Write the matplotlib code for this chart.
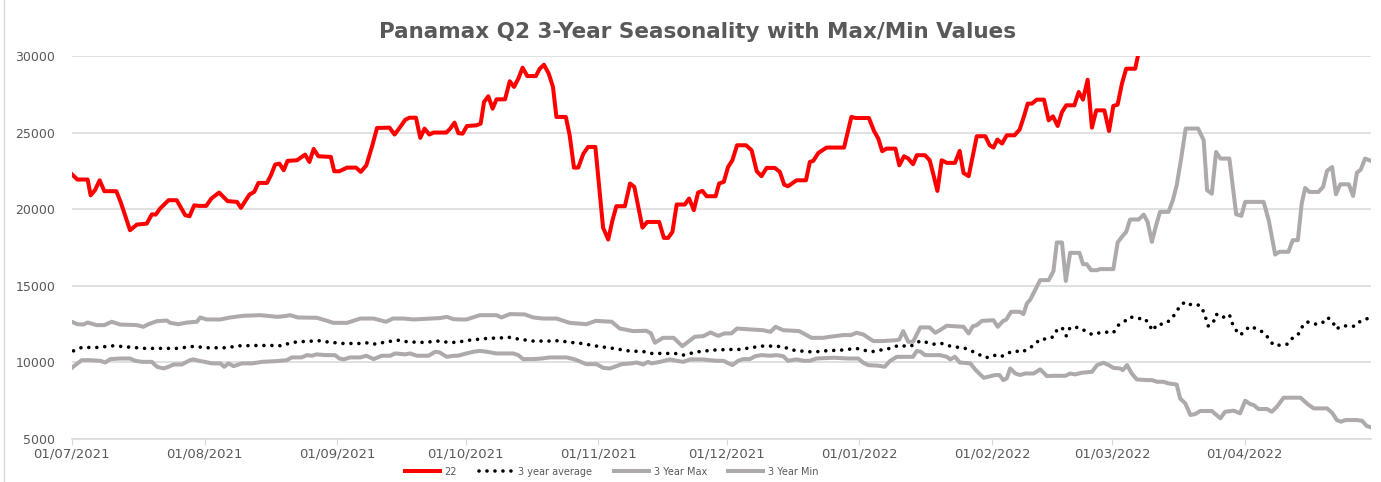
import numpy as np
import pandas as pd
import matplotlib
matplotlib.use('Agg')
import matplotlib.pyplot as plt
import matplotlib.dates as mdates
from matplotlib.lines import Line2D

start = pd.Timestamp('2021-07-01')

# days after 01/07/2021
red_days = [0, 1.3, 3.7, 4.4, 5.4, 6.5, 7.6, 10.4, 11.4, 12.7, 13.6, 15.2, 17.5, 18.7, 19.6, 20.6,
            22.6, 24.5, 26.5, 27.5, 28.6, 29.6, 31.4, 32.6, 34.4, 36.4, 38.6, 39.5, 41.5, 42.6, 43.6,
            45.6, 46.5, 47.5, 48.5, 49.5, 50.4, 52.6, 54.5, 55.5, 56.5, 57.6, 60.5, 61.3, 62.5, 64.3,
            66.4, 67.5, 68.8, 70.1, 71.3, 74.2, 75.4, 76.6, 77.9, 78.9, 80.4, 81.4, 82.4, 83.5, 84.5,
            87.5, 88.4, 89.4, 90.3, 91.3, 92.3, 94.5, 95.5, 96.3, 97.3, 98.3, 99.2, 101.2, 102.3, 103.3,
            104.3, 105.3, 106.4, 108.4, 109.3, 110.3, 111.4, 112.4, 113.2, 115.4, 116.3, 117.3, 118.3,
            119.5, 120.6, 122.3, 123.2, 124.1, 125.3, 126.3, 127.2, 129.2, 130.4, 131.4, 133.3, 134.4,
            137.2, 138.3, 139.3, 140.3, 141.3, 143.2, 144.2, 145.3, 146.3, 147.3, 148.3, 150.4, 151.2,
            152.3, 153.3, 154.3, 155.4, 157.5, 158.8, 160.0, 161.1, 162.3, 164.2, 165.4, 166.4, 167.3,
            169.3, 171.5, 172.4, 173.2, 174.4, 176.3, 180.4, 182.1, 183.2, 186.2, 187.4, 188.4, 189.3,
            190.3, 192.4, 193.3, 194.4, 195.4, 196.5, 197.4, 199.3, 200.4, 201.3, 202.2, 203.2, 204.4,
            206.3, 207.4, 208.3, 209.5, 210.5, 211.4, 213.4, 214.4, 215.3, 216.2, 217.3, 218.4, 220.2,
            221.4, 222.5, 223.3, 224.3, 225.4, 227.1, 228.2, 229.2, 230.3, 231.3, 232.3, 234.2, 235.2,
            236.2, 237.3, 238.3, 239.3, 241.2, 242.3, 243.3, 244.3, 245.3, 246.3, 248.4, 249.8]
red_vals = [22280, 21930, 21930, 20900, 21230, 21880, 21170, 21170, 20470, 19380, 18620, 18990, 19050,
            19660, 19640, 20030, 20580, 20580, 19600, 19530, 20250, 20210, 20210, 20690, 21080, 20520,
            20470, 20080, 20950, 21120, 21710, 21710, 22210, 22910, 22970, 22540, 23150, 23190, 23560,
            23080, 23930, 23450, 23410, 22470, 22470, 22710, 22710, 22430, 22860, 24060, 25300, 25320,
            24870, 25320, 25840, 25970, 25970, 24650, 25260, 24870, 25000, 25000, 25260, 25650, 24960,
            24930, 25430, 25470, 25580, 27000, 27370, 26560, 27170, 27170, 28350, 27980, 28520, 29240,
            28690, 28690, 29170, 29430, 28850, 27980, 26020, 26020, 24820, 22710, 22710, 23620, 24060,
            24060, 21450, 18790, 18010, 19270, 20190, 20190, 21670, 21450, 18790, 19160, 19160, 18120,
            18120, 18510, 20300, 20300, 20690, 19930, 21080, 21190, 20840, 20840, 21670, 21780, 22750,
            23190, 24170, 24170, 23840, 22470, 22150, 22690, 22690, 22430, 21600, 21490, 21880, 21880,
            23080, 23150, 23670, 24020, 24020, 26020, 25950, 25950, 25100, 24600, 23780, 23950, 23950,
            22860, 23450, 23300, 22930, 23520, 23520, 23190, 22210, 21190, 23190, 23020, 23020, 23800,
            22360, 22150, 23520, 24760, 24760, 24170, 24020, 24540, 24280, 24820, 24820, 25190, 26130,
            26890, 26890, 27150, 27150, 25800, 26060, 25430, 26340, 26780, 26780, 27650, 27150, 28450,
            25320, 26450, 26450, 25100, 26740, 26820, 28190, 29170, 29170, 31000]

avg_days = [0.4, 2.3, 5.8, 9.7, 13.6, 17.1, 20.6, 24.5, 28.4, 31.9, 35.8, 39.3, 43.2, 47.1, 49.1, 50.6,
            52.6, 56.1, 58.0, 60.0, 63.5, 67.4, 69.3, 70.9, 72.8, 74.8, 76.6, 78.3, 82.2, 85.7, 87.6,
            89.6, 93.0, 96.9, 100.4, 102.3, 104.3, 107.8, 111.7, 113.6, 115.6, 117.3, 119.1, 122.6,
            126.5, 130.0, 133.9, 135.4, 138.9, 140.9, 142.8, 144.4, 146.3, 149.8, 153.7, 155.7, 157.6,
            161.1, 164.6, 166.6, 168.5, 172.0, 173.9, 175.9, 179.8, 183.3, 184.9, 186.8, 188.8, 190.3,
            192.0, 193.8, 195.0, 196.6, 198.2, 199.7, 201.7, 203.2, 205.2, 208.7, 210.6, 212.2, 213.6,
            215.3, 217.0, 218.8, 220.4, 221.9, 223.5, 224.8, 226.2, 227.8, 229.3, 230.1, 231.3, 232.3,
            233.2, 235.2, 236.7, 238.3, 240.1, 241.8, 243.3, 244.5, 245.8, 247.2, 249.0, 250.7, 251.8,
            252.5, 253.5, 255.0, 256.6, 257.7, 258.9, 260.1, 261.6, 263.4, 264.4, 265.5, 266.7, 267.3,
            268.7, 270.4, 271.0, 271.8, 273.0, 274.1, 275.3, 277.0, 278.4, 279.6, 280.7, 282.3, 284.0,
            285.2, 286.4, 287.3, 288.5, 290.2, 292.0, 293.3, 294.5, 295.3, 296.8, 299.0, 299.8, 301.0,
            302.7]
avg_vals = [10740, 10960, 10960, 11070, 10980, 10900, 10900, 10900, 11030, 10940, 10940, 11070, 11090,
            11090, 11070, 11220, 11330, 11380, 11400, 11310, 11220, 11220, 11270, 11180, 11290, 11380,
            11440, 11330, 11290, 11380, 11310, 11290, 11440, 11550, 11590, 11620, 11510, 11380, 11380,
            11400, 11330, 11270, 11220, 11050, 10900, 10740, 10680, 10570, 10570, 10570, 10460, 10570,
            10680, 10790, 10830, 10830, 10900, 11050, 11050, 10960, 10790, 10680, 10680, 10740, 10790,
            10900, 10790, 10680, 10790, 10830, 11010, 11110, 11010, 11110, 11400, 11290, 11160, 11220,
            11050, 10900, 10680, 10460, 10290, 10460, 10350, 10610, 10740, 10640, 10900, 11110, 11510,
            11510, 11660, 12090, 12270, 11720, 12270, 12270, 12050, 11810, 11920, 11960, 11920, 12420,
            12640, 12960, 12850, 12850, 12380, 12050, 12480, 12480, 12740, 13140, 13690, 13940, 13730,
            13730, 13290, 12350, 12640, 13140, 12900, 13120, 12590, 12140, 11770, 12090, 12350, 12140,
            11940, 11550, 11110, 11110, 11180, 11590, 11770, 12270, 12640, 12480, 12530, 12920, 12680,
            12160, 12380, 12350, 12350, 12680, 12850]

max_days = [0, 1.3, 2.7, 3.7, 5.8, 7.6, 9.3, 11.3, 15.2, 16.7, 17.9, 19.9, 22.2, 23.0, 24.9, 26.9, 29.2,
            30.0, 31.5, 34.7, 37.0, 40.1, 44.0, 46.3, 47.9, 49.8, 51.0, 52.8, 57.2, 59.2, 61.1, 64.3,
            67.4, 70.5, 73.4, 75.0, 77.5, 79.8, 83.7, 86.0, 87.6, 89.2, 90.7, 92.2, 95.3, 99.2, 100.4,
            102.3, 105.8, 107.8, 110.1, 113.2, 116.3, 120.2, 122.4, 126.1, 128.0, 131.1, 134.2, 135.3,
            136.2, 138.1, 140.6, 142.6, 143.7, 145.5, 147.5, 149.2, 151.0, 152.5, 154.1, 155.4, 158.4,
            161.5, 163.2, 164.4, 166.2, 169.9, 172.8, 175.5, 177.1, 180.2, 182.0, 183.3, 184.9, 187.2,
            189.5, 192.7, 193.3, 194.2, 195.4, 196.5, 198.2, 200.4, 201.7, 202.8, 204.4, 208.3, 209.5,
            210.5, 211.4, 212.6, 215.3, 216.3, 217.5, 218.3, 219.4, 221.5, 222.3, 223.1, 223.9, 225.4,
            226.2, 228.2, 229.3, 230.1, 231.3, 232.2, 233.2, 235.4, 236.2, 237.1, 238.1, 239.5, 240.2,
            243.3, 244.3, 245.3, 246.3, 247.2, 249.2, 250.4, 251.3, 252.3, 253.3, 254.2, 256.2, 257.2,
            258.1, 259.1, 260.2, 263.1, 264.4, 265.2, 266.3, 267.3, 268.3, 270.4, 272.0, 273.2, 274.1,
            278.4, 279.6, 281.1, 282.1, 284.2, 285.2, 286.4, 287.3, 288.1, 289.1, 291.2, 292.3, 293.2,
            294.4, 295.3, 296.3, 298.3, 299.3, 300.2, 301.1, 302.1, 303.5]
max_vals = [12640, 12480, 12460, 12590, 12420, 12420, 12640, 12460, 12420, 12310, 12480, 12680, 12720,
            12570, 12480, 12590, 12640, 12920, 12790, 12790, 12920, 13030, 13070, 13010, 12960, 13010,
            13070, 12920, 12900, 12740, 12570, 12570, 12850, 12850, 12640, 12850, 12850, 12790, 12850,
            12880, 12960, 12810, 12790, 12790, 13070, 13070, 12920, 13140, 13120, 12920, 12850, 12850,
            12570, 12480, 12700, 12640, 12200, 12030, 12050, 11880, 11270, 11590, 11590, 11050, 11270,
            11660, 11700, 11940, 11720, 11880, 11880, 12200, 12140, 12090, 11980, 12310, 12090, 12030,
            11590, 11590, 11660, 11770, 11770, 11920, 11810, 11380, 11380, 11440, 11480, 12030, 11330,
            11330, 12270, 12270, 11920, 12090, 12380, 12310, 11880, 12350, 12420, 12700, 12740, 12310,
            12680, 12790, 13290, 13290, 13140, 13830, 14090, 14920, 15360, 15360, 15940, 17820, 17820,
            15310, 17140, 17140, 16400, 16400, 16010, 16010, 16080, 16080, 17820, 18190, 18510, 19320,
            19320, 19640, 19160, 17860, 18950, 19820, 19820, 20580, 21560, 23230, 25260, 25260, 24500,
            21230, 21010, 23730, 23300, 23300, 19660, 19560, 20470, 20470, 19270, 17030, 17210, 17210,
            17970, 17970, 20360, 21380, 21120, 21120, 21450, 22490, 22750, 20970, 21620, 21620, 20860,
            22380, 22580, 23300, 23150]

min_days = [0, 2.3, 4.2, 6.6, 7.8, 9.0, 11.3, 13.6, 14.8, 16.4, 18.7, 19.9, 21.4, 22.6, 23.8, 25.7,
            27.6, 28.4, 30.0, 31.1, 32.7, 34.7, 35.6, 36.6, 37.8, 39.7, 42.1, 44.4, 47.9, 50.2, 51.4,
            53.7, 54.9, 56.1, 57.2, 59.2, 61.5, 62.5, 63.5, 65.0, 67.4, 68.8, 70.5, 72.4, 74.4, 75.5,
            77.9, 79.0, 80.6, 83.3, 84.9, 85.9, 87.6, 89.2, 90.2, 92.2, 93.8, 95.3, 96.9, 99.2, 103.1,
            104.3, 105.4, 107.8, 109.7, 111.7, 115.6, 117.5, 120.2, 122.6, 124.1, 125.7, 127.2, 128.4,
            130.7, 131.9, 133.5, 134.6, 135.4, 137.4, 139.7, 141.3, 142.8, 144.4, 147.5, 149.0, 150.6,
            152.2, 154.3, 155.7, 156.8, 158.4, 159.6, 161.1, 163.1, 164.6, 166.2, 167.3, 169.3, 170.9,
            172.4, 174.0, 177.9, 181.4, 183.7, 184.9, 186.0, 188.4, 189.9, 191.1, 192.7, 196.5, 197.4,
            198.3, 199.3, 202.8, 204.4, 205.2, 206.3, 207.4, 209.9, 211.0, 213.0, 214.1, 215.7, 216.7,
            217.6, 218.4, 219.2, 220.4, 221.5, 222.7, 224.7, 226.2, 227.8, 229.3, 232.1, 233.2, 234.4,
            235.9, 238.3, 239.5, 241.0, 242.2, 243.3, 244.9, 245.5, 246.5, 247.6, 248.8, 251.1, 252.3,
            253.5, 255.0, 256.2, 258.1, 258.9, 260.1, 261.3, 262.4, 263.6, 266.3, 268.3, 269.4, 271.4,
            272.9, 274.1, 275.3, 276.1, 277.2, 279.2, 280.3, 281.5, 283.1, 287.0, 288.7, 290.1, 293.2,
            294.4, 295.5, 296.5, 297.5, 300.2, 301.4, 302.5, 303.5]
min_vals = [9630, 10130, 10130, 10090, 9980, 10200, 10240, 10240, 10090, 10020, 10020, 9700, 9590, 9700,
            9850, 9850, 10130, 10180, 10070, 10020, 9920, 9920, 9700, 9920, 9740, 9920, 9920, 10020,
            10070, 10130, 10310, 10310, 10460, 10420, 10510, 10460, 10460, 10240, 10180, 10310, 10310,
            10420, 10200, 10420, 10420, 10570, 10510, 10570, 10420, 10420, 10680, 10640, 10350, 10420,
            10420, 10570, 10680, 10740, 10680, 10570, 10570, 10460, 10200, 10200, 10240, 10310, 10310,
            10180, 9870, 9870, 9630, 9590, 9740, 9870, 9920, 9980, 9850, 10020, 9920, 10020, 10180,
            10090, 10020, 10180, 10180, 10130, 10090, 10090, 9810, 10090, 10200, 10200, 10390, 10460,
            10420, 10460, 10390, 10090, 10180, 10090, 10090, 10240, 10290, 10240, 10240, 9960, 9810,
            9770, 9700, 10070, 10350, 10350, 10740, 10680, 10460, 10460, 10350, 10180, 10350, 9980,
            9920, 9530, 8980, 9050, 9160, 9160, 8830, 8940, 9590, 9260, 9160, 9260, 9260, 9530, 9090,
            9110, 9110, 9260, 9200, 9310, 9370, 9810, 9960, 9810, 9630, 9590, 9480, 9810, 9260, 8870,
            8830, 8830, 8720, 8720, 8610, 8540, 7630, 7310, 6550, 6610, 6810, 6810, 6330, 6760, 6830,
            6660, 7480, 7260, 7200, 6940, 6940, 6760, 7090, 7680, 7680, 7260, 6980, 6980, 6700, 6220,
            6110, 6220, 6220, 6170, 5830, 5740]

y_ticks = [5000, 10000, 15000, 20000, 25000, 30000]


def to_dates(days):
    return start + pd.to_timedelta(np.array(days), unit='D')


red = '#FF0000'
gray = '#AEAAAA'
text_col = '#595959'

fig = plt.figure(figsize=(13.81, 4.82), dpi=100)
ax = fig.add_axes([0.052, 0.0898, 0.9408, 0.794])

ax.plot(to_dates(red_days), red_vals, color=red, lw=2.9, label='22', solid_joinstyle='round')
ax.plot(to_dates(avg_days), avg_vals, color='black', lw=2.6, linestyle=(0, (0.01, 2.2)),
        dash_capstyle='round', label='3 year average')
ax.plot(to_dates(max_days), max_vals, color=gray, lw=2.9, label='3 Year Max', solid_joinstyle='round')
ax.plot(to_dates(min_days), min_vals, color=gray, lw=2.9, label='3 Year Min', solid_joinstyle='round')

ax.set_ylim(y_ticks[0], y_ticks[-1])
ax.set_yticks(y_ticks)
ax.set_xlim(start, to_dates([max_days[-1]])[0])
ax.xaxis.set_major_locator(mdates.MonthLocator())
ax.xaxis.set_major_formatter(mdates.DateFormatter('%d/%m/%Y'))

ax.grid(axis='y', color='#D9D9D9', lw=1.1)
ax.set_axisbelow(True)
for s in ['top', 'right', 'left']:
    ax.spines[s].set_visible(False)
ax.spines['bottom'].set_color('#D9D9D9')
ax.spines['bottom'].set_linewidth(1.1)
ax.tick_params(axis='y', length=0, pad=12, labelsize=9, labelcolor=text_col)
ax.tick_params(axis='x', length=4, color='#D9D9D9', pad=2, labelsize=9.5, labelcolor=text_col)

fig.text(0.505, 0.934, 'Panamax Q2 3-Year Seasonality with Max/Min Values', ha='center', va='center',
         fontsize=15.5, fontweight='bold', color=text_col)

ax.legend(loc='center', bbox_to_anchor=(0.443, 0.021), bbox_transform=fig.transFigure, ncol=4,
          frameon=False, fontsize=7, handlelength=3.6, columnspacing=2.2, handletextpad=0.5,
          labelcolor=text_col)

fig.add_artist(Line2D([0.003, 0.003], [0.0, 1.0], transform=fig.transFigure, color='#D9D9D9', lw=1))

fig.savefig('out.png', dpi=100)
